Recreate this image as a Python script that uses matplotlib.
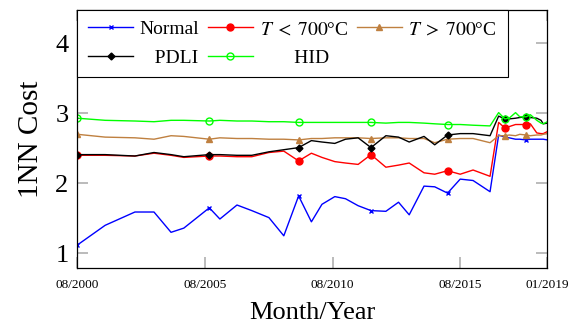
import matplotlib
matplotlib.use("Agg")
import matplotlib.pyplot as plt
import matplotlib.dates as mdates
from datetime import datetime

plt.rcParams["font.family"] = ["Liberation Serif", "DejaVu Serif"]
plt.rcParams["mathtext.fontset"] = "stix"

# snapshot months (YYYY-MM)
months = ["2000-08", "2001-09", "2002-11", "2003-08", "2004-04", "2004-10",
          "2005-10", "2006-03", "2006-11", "2007-06", "2008-02", "2008-09",
          "2009-04", "2009-10", "2010-03", "2010-09", "2011-02", "2011-08",
          "2012-02", "2012-09", "2013-03", "2013-08", "2014-03", "2014-08",
          "2015-02", "2015-08", "2016-02", "2016-10", "2017-02", "2017-05",
          "2017-07", "2017-10", "2017-12", "2018-03", "2018-05", "2018-08",
          "2018-10", "2018-11", "2019-01"]

normal = [1.12, 1.40, 1.59, 1.59, 1.30, 1.36, 1.65, 1.49, 1.69, 1.61, 1.51, 1.25,
          1.82, 1.45, 1.70, 1.81, 1.78, 1.68, 1.61, 1.60, 1.73, 1.55, 1.96, 1.95,
          1.86, 2.06, 2.04, 1.88, 2.69, 2.66, 2.65, 2.63, 2.63, 2.62, 2.63, 2.63,
          2.63, 2.63, 2.62]
t_low = [2.40, 2.40, 2.39, 2.43, 2.40, 2.37, 2.39, 2.39, 2.38, 2.38, 2.44, 2.46,
         2.32, 2.43, 2.37, 2.31, 2.29, 2.27, 2.41, 2.23, 2.26, 2.29, 2.15, 2.13,
         2.18, 2.13, 2.19, 2.10, 2.87, 2.79, 2.81, 2.84, 2.84, 2.84, 2.85, 2.72,
         2.71, 2.71, 2.74]
t_high = [2.70, 2.66, 2.65, 2.63, 2.68, 2.67, 2.63, 2.65, 2.64, 2.64, 2.63, 2.63,
          2.62, 2.64, 2.64, 2.65, 2.65, 2.65, 2.64, 2.65, 2.65, 2.64, 2.64, 2.58,
          2.63, 2.64, 2.64, 2.58, 2.68, 2.68, 2.69, 2.68, 2.70, 2.69, 2.68, 2.69,
          2.69, 2.70, 2.71]
pdli = [2.41, 2.41, 2.39, 2.44, 2.41, 2.38, 2.41, 2.41, 2.40, 2.40, 2.45, 2.48,
        2.51, 2.61, 2.59, 2.57, 2.63, 2.65, 2.51, 2.68, 2.66, 2.59, 2.67, 2.55,
        2.69, 2.71, 2.71, 2.68, 2.96, 2.92, 2.92, 2.93, 2.94, 2.95, 2.94, 2.93,
        2.90, 2.85, 2.86]
hid = [2.93, 2.90, 2.89, 2.88, 2.90, 2.90, 2.89, 2.90, 2.89, 2.89, 2.88, 2.88,
       2.87, 2.87, 2.87, 2.87, 2.87, 2.87, 2.87, 2.86, 2.87, 2.87, 2.86, 2.85,
       2.84, 2.84, 2.83, 2.82, 3.01, 2.92, 2.93, 3.01, 2.95, 2.95, 2.98, 2.90,
       2.86, 2.85, 2.88]

# indices of snapshots that carry a marker
marked = [0, 6, 12, 18, 24, 29, 33]

x_ticks = ["2000-08", "2005-08", "2010-08", "2015-08", "2019-01"]
y_ticks = [1, 2, 3, 4]

def to_date(s):
    return datetime.strptime(s, "%Y-%m")

dates = [to_date(m) for m in months]

fig = plt.figure(figsize=(5.71, 3.31), dpi=100)
ax = fig.add_axes([0.1357, 0.1903, 0.8231, 0.7795])

series = [
    (normal, "Normal", "#0000ff", dict(marker="x", ms=3.5, mew=1.0)),
    (t_low, r"$T\;<\;700$°C", "#ff0000", dict(marker="o", ms=5.0)),
    (t_high, r"$T\;>\;700$°C", "#bf8040", dict(marker="^", ms=4.5)),
    (pdli, "   PDLI", "#000000", dict(marker="D", ms=3.5)),
    (hid, "       HID", "#00ff00", dict(marker="o", ms=5.0, mfc="none", mew=1.0)),
]
lines = []
for vals, label, color, mk in series:
    ln, = ax.plot(dates, vals, color=color, lw=1.0, label=label,
                  markevery=marked, **mk)
    lines.append(ln)

ax.set_xlim(to_date("2000-08"), to_date("2019-01"))
ax.set_ylim(0.79, 4.476)
ax.set_xticks([to_date(t) for t in x_ticks])
ax.xaxis.set_major_formatter(mdates.DateFormatter("%m/%Y"))
ax.set_yticks(y_ticks)
ax.tick_params(axis="both", direction="in", length=8, width=1.1,
               color="#a8a8a8", top=True, right=True)
ax.tick_params(axis="x", labelsize=9.5, pad=8)
ax.tick_params(axis="y", labelsize=19, pad=6.5)
ax.minorticks_off()
for sp in ax.spines.values():
    sp.set_linewidth(0.9)

ax.set_xlabel("Month/Year", fontsize=19, labelpad=8)
ax.set_ylabel("1NN Cost", fontsize=21, labelpad=8)

# legend filled row by row: Normal, T<, T> / PDLI, HID
order = [0, 3, 1, 4, 2]
leg = ax.legend([lines[i] for i in order], [lines[i].get_label() for i in order],
                loc="upper left", ncol=3, fontsize=14, frameon=True,
                fancybox=False, framealpha=1, edgecolor="black",
                borderaxespad=0, handlelength=2.3, handletextpad=0.35,
                columnspacing=0.45, labelspacing=0.55, borderpad=0.55)
leg.get_frame().set_linewidth(0.8)

fig.savefig("out.png", dpi=100)
